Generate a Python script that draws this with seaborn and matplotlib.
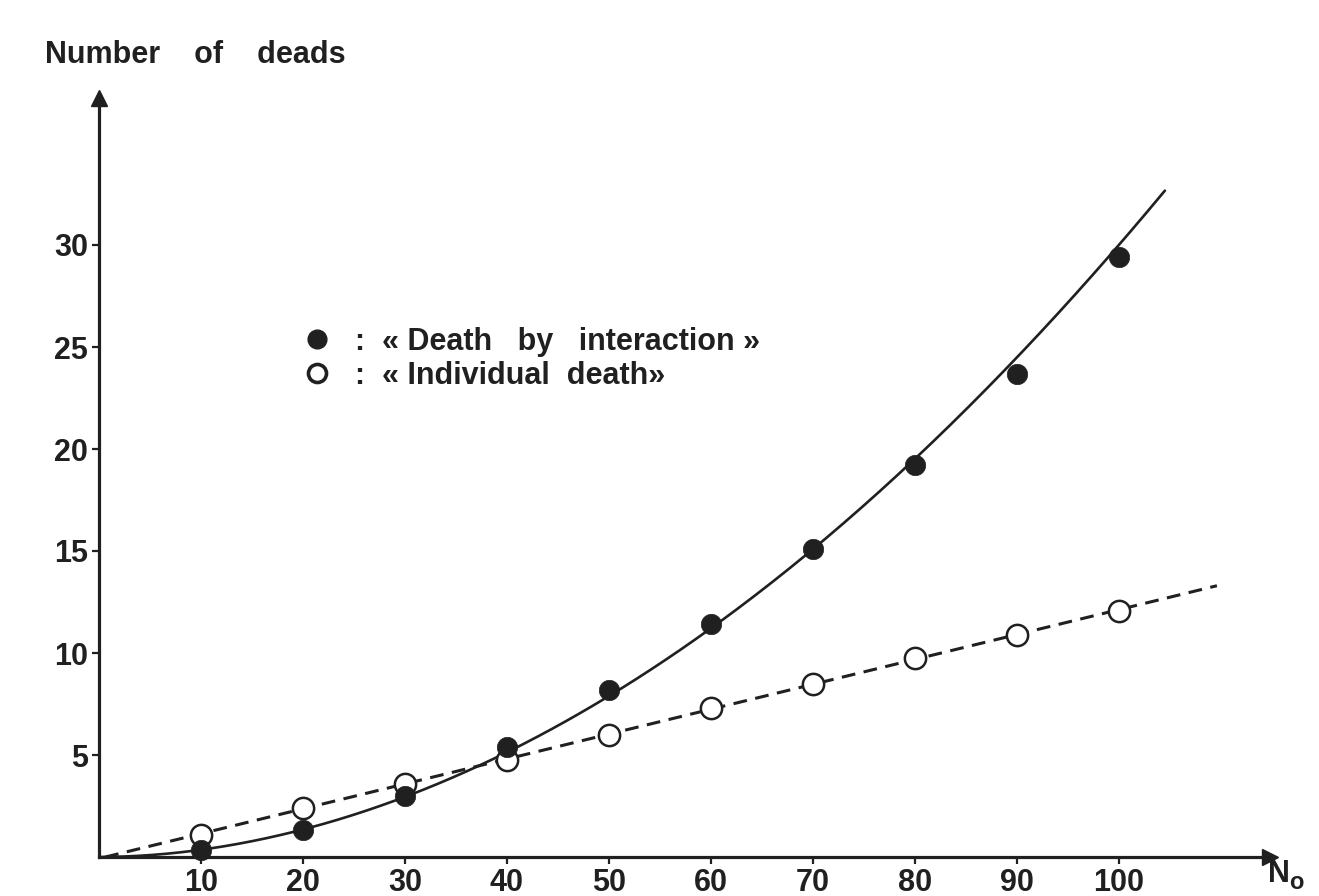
import numpy as np
import pandas as pd
import matplotlib
matplotlib.use("Agg")
import matplotlib.pyplot as plt
import seaborn as sns
from matplotlib.lines import Line2D

# Initial number of larvae (N0) and the number of dead larvae observed
n0 = [10, 20, 30, 40, 50, 60, 70, 80, 90, 100]
deaths_interaction = [0.35, 1.3, 3.0, 5.4, 8.2, 11.4, 15.1, 19.2, 23.7, 29.4]
deaths_individual = [1.1, 2.4, 3.6, 4.75, 6.0, 7.3, 8.5, 9.75, 10.9, 12.05]
x_ticks = [10, 20, 30, 40, 50, 60, 70, 80, 90, 100]
y_ticks = [5, 10, 15, 20, 25, 30]
legend_labels = [":  « Death   by   interaction »", ":  « Individual  death»"]

INK = "#202020"
FS = 22

sns.set_theme(style="white")
plt.rcParams["font.family"] = ["Liberation Sans", "DejaVu Sans"]
plt.rcParams["font.weight"] = "bold"

W, H = 1319, 896
fig = plt.figure(figsize=(W / 100, H / 100), dpi=100)
fig.patch.set_facecolor("white")

# axes frame: origin and scale in pixels
x0_px, y0_px = 99, 857
sx, sy = 10.2, 20.4
xmax, ymax = 114.8, 37.2
ax = fig.add_axes([x0_px / W, (H - y0_px) / H, xmax * sx / W, ymax * sy / H])
ax.set_facecolor("white")

df = pd.DataFrame({"N0": n0,
                   "interaction": deaths_interaction,
                   "individual": deaths_individual})

# power-law fit for deaths by interaction
b, log_a = np.polyfit(np.log(df["N0"]), np.log(df["interaction"]), 1)
xs = np.linspace(0, 104.5, 300)
fit_interaction = np.exp(log_a) * xs ** b

# straight-line fit for individual deaths
m, c = np.polyfit(df["N0"], df["individual"], 1)
xl = np.array([0.6, 109.6])
fit_individual = m * xl + c

ax.plot(xs, fit_interaction, color=INK, lw=1.9, zorder=3, solid_capstyle="round")
ax.plot(xl, fit_individual, color=INK, lw=2.2, linestyle=(0, (4.5, 2.8)), zorder=3)

sns.scatterplot(data=df, x="N0", y="interaction", ax=ax, s=215, color=INK,
                edgecolor=INK, linewidth=0.5, zorder=5, clip_on=False, legend=False)
sns.scatterplot(data=df, x="N0", y="individual", ax=ax, s=235, color="white",
                edgecolor=INK, linewidth=1.8, zorder=4, clip_on=False, legend=False)

ax.set_xlim(0, xmax)
ax.set_ylim(0, ymax)
ax.set_xticks(x_ticks)
ax.set_yticks(y_ticks)
ax.set_xlabel("")
ax.set_ylabel("")

for side in ("top", "right"):
    ax.spines[side].set_visible(False)
for side in ("left", "bottom"):
    ax.spines[side].set_visible(True)
    ax.spines[side].set_color(INK)
    ax.spines[side].set_linewidth(2.3)

ax.tick_params(axis="both", which="major", direction="out", length=5, width=1.6,
               color=INK, labelcolor=INK, labelsize=FS, bottom=True, left=True)
ax.tick_params(axis="y", pad=3)
ax.tick_params(axis="x", pad=3)
for lab in ax.get_xticklabels() + ax.get_yticklabels():
    lab.set_fontweight("bold")

# arrowheads at the ends of both axes
ax.plot([0], [1], marker="^", ms=11, color=INK, transform=ax.transAxes,
        clip_on=False, zorder=6)
ax.plot([1], [0], marker=">", ms=11, color=INK, transform=ax.transAxes,
        clip_on=False, zorder=6)

# axis titles
fig.text(45 / W, 1 - 63 / H, "Number    of    deads", fontsize=FS, fontweight="bold",
         color=INK, ha="left", va="baseline")
fig.text(1268 / W, 1 - 882 / H, "N", fontsize=FS, fontweight="bold",
         color=INK, ha="left", va="baseline")
fig.text(1289 / W, 1 - 889 / H, "o", fontsize=17, fontweight="bold",
         color=INK, ha="left", va="baseline")

# legend
h_filled = Line2D([], [], ls="none", marker="o", ms=13.5, mfc=INK, mec=INK)
h_open = Line2D([], [], ls="none", marker="o", ms=13, mfc="white", mec=INK, mew=2.6)
ax.legend([h_filled, h_open], legend_labels, loc="upper left",
          bbox_to_anchor=(302 / W, 1 - 327 / H), bbox_transform=fig.transFigure,
          frameon=False, handlelength=1.0, handletextpad=0.75, labelspacing=0.13,
          borderpad=0, borderaxespad=0,
          prop={"size": FS, "weight": "bold", "family": ["Liberation Sans", "DejaVu Sans"]},
          labelcolor=INK)

fig.savefig("out.png", dpi=100, facecolor="white")
